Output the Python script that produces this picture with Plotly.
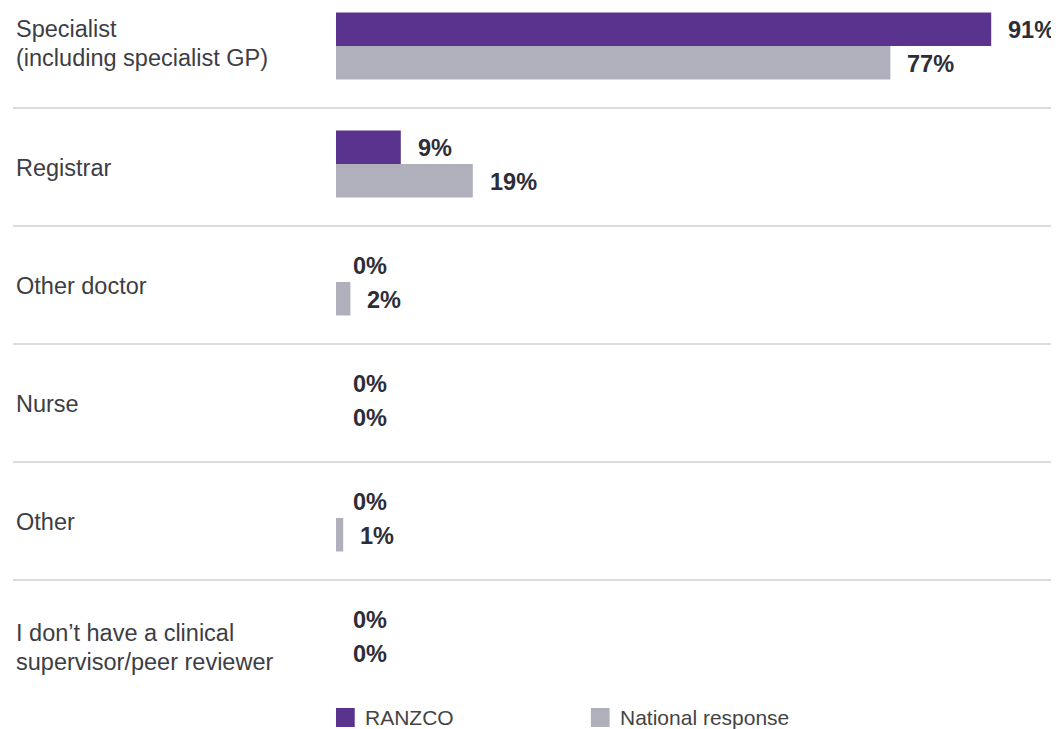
import plotly.graph_objects as go

# Dữ liệu
categories = [
    "Specialist<br>(including specialist GP)",
    "Registrar",
    "Other doctor",
    "Nurse",
    "Other",
    "I don’t have a clinical<br>supervisor/peer reviewer",
]
ranzco = [91, 9, 0, 0, 0, 0]
national = [77, 19, 2, 0, 1, 0]
series_names = ["RANZCO", "National response"]

PURPLE = "#59338d"
GREY = "#b0b0bc"
FONT = "Liberation Sans, Arial, sans-serif"

fig = go.Figure()
fig.add_trace(go.Bar(y=categories, x=ranzco, orientation="h", name=series_names[0],
                     marker=dict(color=PURPLE, line=dict(width=0))))
fig.add_trace(go.Bar(y=categories, x=national, orientation="h", name=series_names[1],
                     marker=dict(color=GREY, line=dict(width=0))))

annotations = []
# nhãn danh mục bên trái (mỗi dòng một annotation để chỉnh khoảng cách dòng)
line_shift = {0: [17, -12], 5: [3, -26]}
for i, c in enumerate(categories):
    lines = c.split("<br>")
    shifts = line_shift.get(i, [-4])
    for line, ys in zip(lines, shifts):
        annotations.append(dict(x=-0.447, xref="paper", y=c, yref="y", text=line,
                                xanchor="left", yanchor="middle", align="left", showarrow=False,
                                yshift=ys,
                                font=dict(family=FONT, size=23.5, color="#3d3d45")))
# nhãn giá trị
for vals, shift in [(ranzco, 16), (national, -18)]:
    for c, v in zip(categories, vals):
        annotations.append(dict(x=v, xref="x", y=c, yref="y", text=f"<b>{v}%</b>",
                                xanchor="left", yanchor="middle", xshift=15, yshift=shift,
                                showarrow=False,
                                font=dict(family=FONT, size=23.5, color="#2d2d38")))

# đường phân cách
shapes = []
for i in range(len(categories) - 1):
    shapes.append(dict(type="line", xref="paper", yref="y", x0=-0.4486, x1=1.01,
                       y0=i + 0.525, y1=i + 0.525, line=dict(color="#dcdcdc", width=2)))

# chú giải tự vẽ
for name, color, x0 in [(series_names[0], PURPLE, 0.0), (series_names[1], GREY, 0.354)]:
    shapes.append(dict(type="rect", xref="paper", yref="paper", x0=x0, x1=x0 + 0.026,
                       y0=-0.0189, y1=-0.0466, fillcolor=color, line=dict(width=0)))
    annotations.append(dict(x=x0 + 0.0375, xref="paper", y=-0.0328, yref="paper", text=name,
                            xanchor="left", yanchor="middle", showarrow=False,
                            font=dict(family=FONT, size=21, color="#444444")))

# trang HTML có lề 8px nên giảm kích thước tương ứng
fig.update_layout(
    width=1051, height=721,
    margin=dict(l=328, r=3, t=0, b=34),
    paper_bgcolor="white", plot_bgcolor="white",
    barmode="group", bargap=0.432, bargroupgap=0,
    showlegend=False,
    annotations=annotations, shapes=shapes,
    font=dict(family=FONT),
)
fig.update_xaxes(range=[0, 100], visible=False, fixedrange=True)
fig.update_yaxes(range=[5.5, -0.322], showticklabels=False, showgrid=False, zeroline=False,
                 fixedrange=True)

fig.write_html("out.html", config={"displayModeBar": False})
